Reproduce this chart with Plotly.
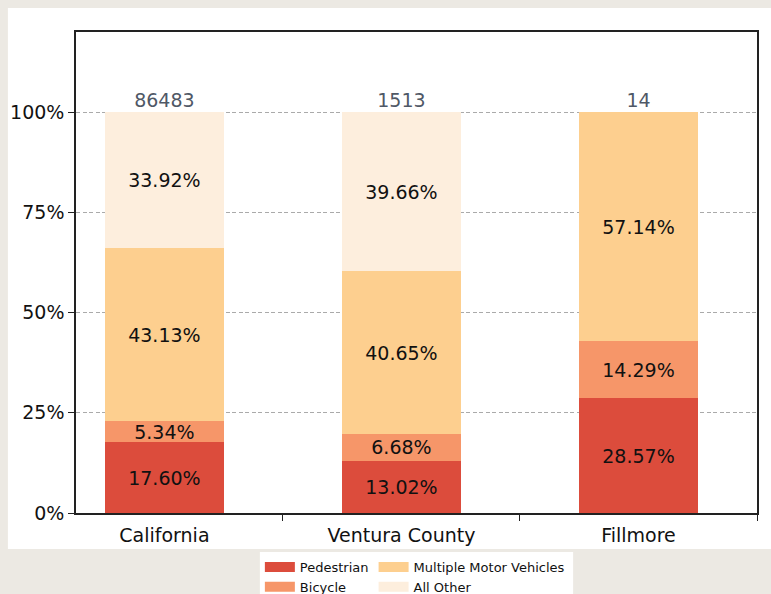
import plotly.graph_objects as go

categories = ["California", "Ventura County", "Fillmore"]
pedestrian = [17.60, 13.02, 28.57]
bicycle = [5.34, 6.68, 14.29]
multiple_mv = [43.13, 40.65, 57.14]
all_other = [33.92, 39.66, 0.0]
totals = [86483, 1513, 14]
y_ticks = [0, 25, 50, 75, 100]
y_tick_labels = ["0%", "25%", "50%", "75%", "100%"]

series = [
    ("Pedestrian", pedestrian, "#dc4c3c", "legend"),
    ("Bicycle", bicycle, "#f69669", "legend"),
    ("Multiple Motor Vehicles", multiple_mv, "#fdcf8f", "legend2"),
    ("All Other", all_other, "#fdeedd", "legend2"),
]

FONT = "DejaVu Sans"
FS = 19
xpos = list(range(len(categories)))

fig = go.Figure()
for name, vals, color, leg in series:
    fig.add_trace(go.Bar(
        x=xpos, y=vals, name=name, width=0.5,
        marker=dict(color=color, line=dict(width=0)),
        text=[f"{v:.2f}%" if v > 0 else "" for v in vals],
        textposition="inside", insidetextanchor="middle",
        textangle=0, constraintext="none",
        textfont=dict(family=FONT, size=FS, color="#111111"),
        showlegend=False, hoverinfo="skip",
    ))
    # legend swatch
    fig.add_trace(go.Scatter(
        x=[None], y=[None], mode="lines", name=name,
        line=dict(color=color, width=10), legend=leg,
    ))

fig.add_trace(go.Scatter(
    x=xpos, y=[100] * len(xpos), mode="text",
    text=[str(t) for t in totals], textposition="top center",
    textfont=dict(family=FONT, size=FS, color="#4f5866"),
    showlegend=False, hoverinfo="skip", cliponaxis=False,
))

LEG_Y = -0.081
legend_common = dict(
    yanchor="top", xanchor="left", y=LEG_Y, orientation="v",
    bgcolor="white", traceorder="normal",
    font=dict(family=FONT, size=13, color="#111111"),
    tracegroupgap=0, itemwidth=30,
)

fig.update_layout(
    barmode="stack",
    width=771, height=594,
    margin=dict(l=76, r=14, t=32, b=81, autoexpand=False),
    paper_bgcolor="#ece9e3",
    plot_bgcolor="white",
    font=dict(family=FONT, size=FS, color="#111111"),
    shapes=[
        dict(type="rect", xref="paper", yref="paper",
             x0=-0.1, x1=1.03, y0=-0.075, y1=1.05,
             fillcolor="white", line=dict(width=0), layer="below"),
        dict(type="rect", xref="paper", yref="paper",
             x0=0.27, x1=0.73, y0=-0.2, y1=LEG_Y,
             fillcolor="white", line=dict(width=0), layer="below"),
    ],
    legend=dict(x=0.27, **legend_common),
    legend2=dict(x=0.437, **legend_common),
)

fig.update_xaxes(
    range=[-0.373, 2.5], tickmode="array", tickvals=xpos, ticktext=categories,
    ticks="", showgrid=False, zeroline=False, ticklabelstandoff=4,
    showline=True, linecolor="#222222", linewidth=1.5, mirror=True,
    tickfont=dict(family=FONT, size=FS, color="#111111"),
    minor=dict(tickmode="array", tickvals=[0.5, 1.5, 2.5], ticks="outside",
               ticklen=6, tickcolor="#222222", tickwidth=1, showgrid=False),
)
fig.update_yaxes(
    range=[0, 120], tickmode="array", tickvals=y_ticks, ticktext=y_tick_labels,
    ticks="outside", ticklen=6, tickcolor="#222222",
    showgrid=True, gridcolor="#aaaaaa", griddash="4px,2.5px", gridwidth=1,
    zeroline=False,
    showline=True, linecolor="#222222", linewidth=1.5, mirror=True,
    tickfont=dict(family=FONT, size=FS, color="#111111"),
)

fig.write_html(
    "out.html",
    config={"displayModeBar": False},
    post_script="document.body.style.margin='0';document.body.style.background='#ece9e3';",
)
